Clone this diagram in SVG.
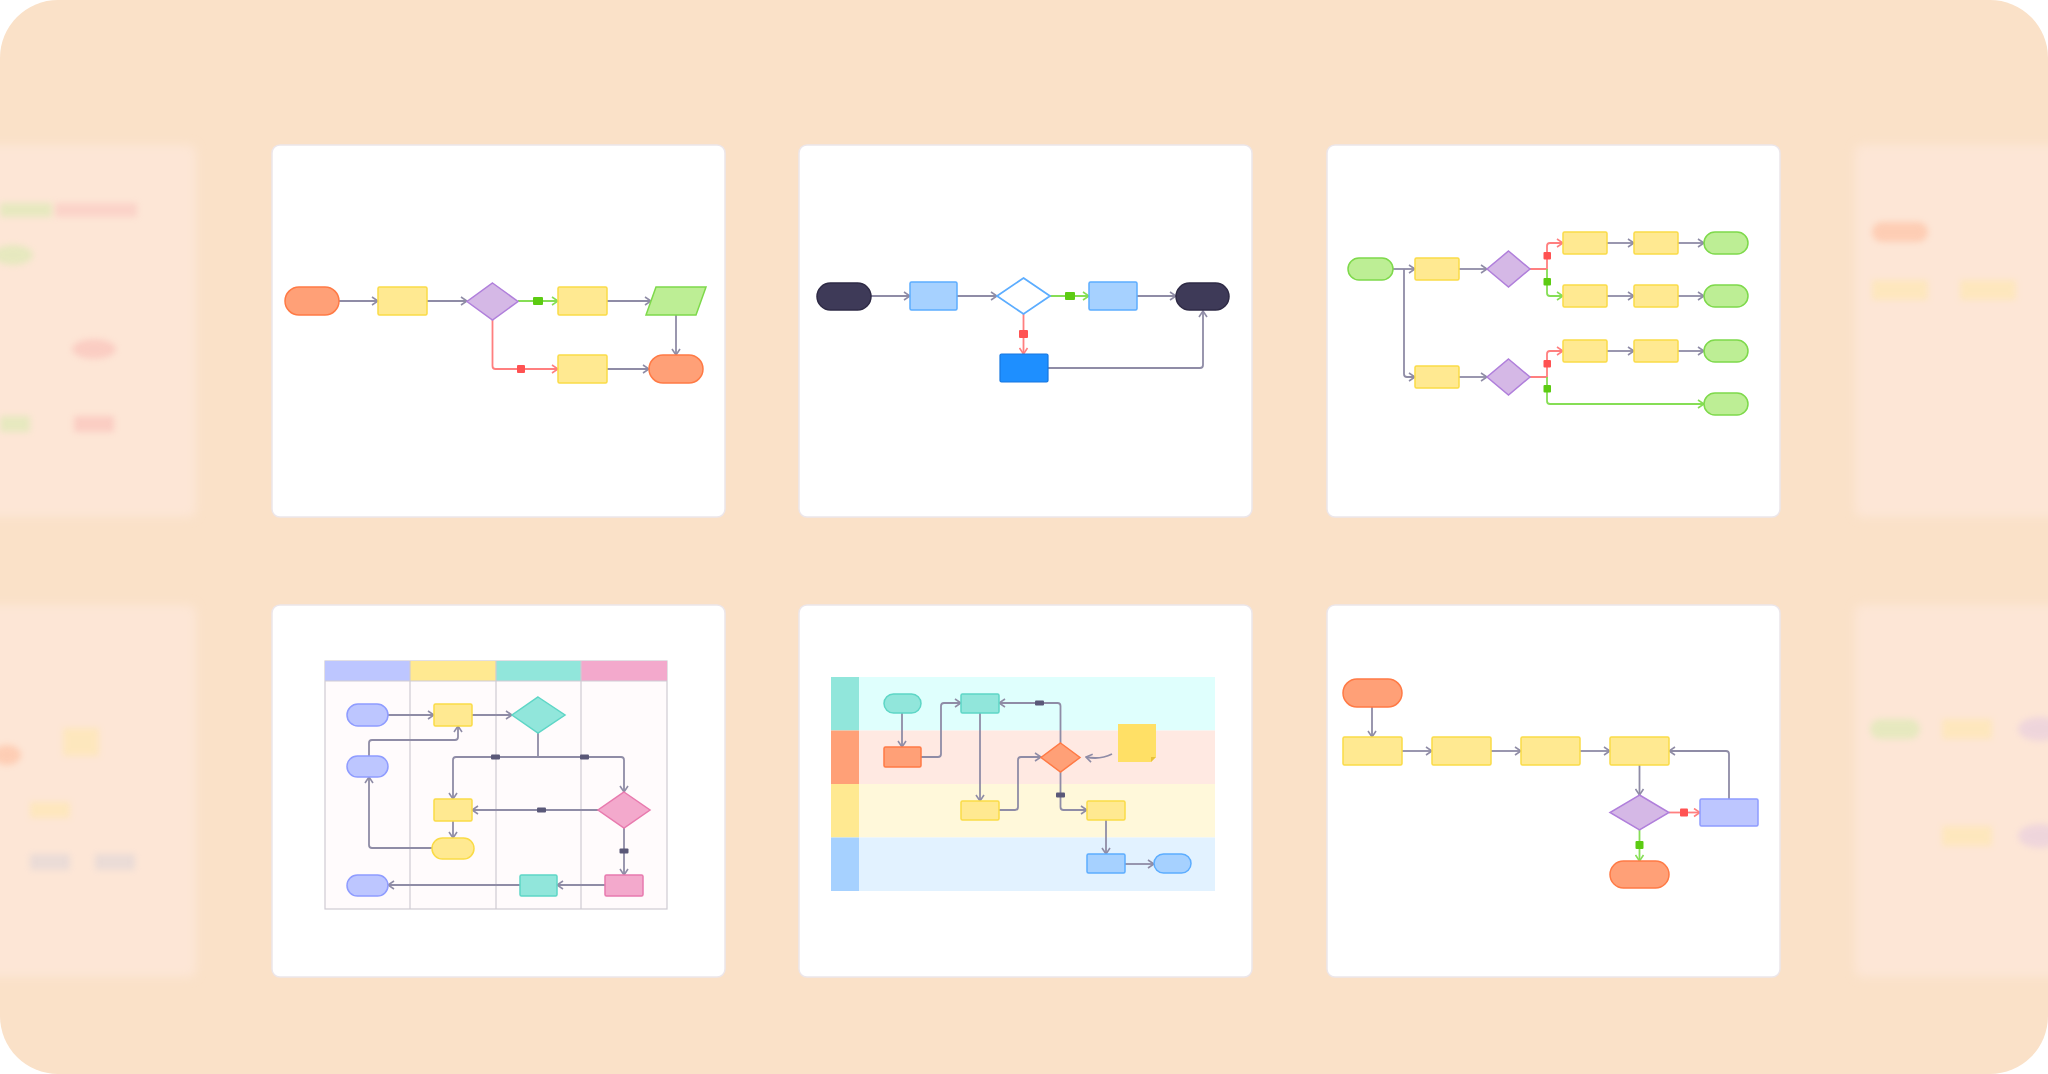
<svg xmlns="http://www.w3.org/2000/svg" width="2048" height="1074" viewBox="0 0 2048 1074">
<style>
.card{fill:#fff;stroke:#ECE6EA;stroke-width:1.5}
.ghost{fill:#FDE6D6}
.c{fill:none;stroke:#8F8CA6;stroke-width:1.8}
.cr{fill:none;stroke:#FF7F7F;stroke-width:1.8}
.cg{fill:none;stroke:#86DE55;stroke-width:1.8}
.y{fill:#FFE991;stroke:#FADB47;stroke-width:1.5}
.o{fill:#FFA077;stroke:#FF7A45;stroke-width:1.5}
.p{fill:#D5B8E6;stroke:#B07FDB;stroke-width:1.5}
.g{fill:#BDEE95;stroke:#7ED94B;stroke-width:1.5}
.b{fill:#A6D1FF;stroke:#5CADFF;stroke-width:1.5}
.v{fill:#BDC6FF;stroke:#8F9CFF;stroke-width:1.5}
.t{fill:#91E6DB;stroke:#5ED6C6;stroke-width:1.5}
.k{fill:#F3A9CC;stroke:#E87AAE;stroke-width:1.5}
.mr{fill:#FF5252}
.mg{fill:#5CCB12}
.md{fill:#5A5878}
.ln{stroke:#CFCBD3;stroke-width:1.2;fill:none}
</style>
<defs>
<marker id="a" viewBox="0 0 8 10" refX="7" refY="5" markerWidth="8" markerHeight="10" markerUnits="userSpaceOnUse" orient="auto"><path d="M1,1 L7,5 L1,9" fill="none" stroke="#8F8CA6" stroke-width="1.6"/></marker>
<marker id="ar" viewBox="0 0 8 10" refX="7" refY="5" markerWidth="8" markerHeight="10" markerUnits="userSpaceOnUse" orient="auto"><path d="M1,1 L7,5 L1,9" fill="none" stroke="#FF7F7F" stroke-width="1.6"/></marker>
<marker id="ag" viewBox="0 0 8 10" refX="7" refY="5" markerWidth="8" markerHeight="10" markerUnits="userSpaceOnUse" orient="auto"><path d="M1,1 L7,5 L1,9" fill="none" stroke="#86DE55" stroke-width="1.6"/></marker>
<filter id="blur" x="-20%" y="-20%" width="140%" height="140%"><feGaussianBlur stdDeviation="5"/></filter>
<filter id="blur2" x="-50%" y="-50%" width="200%" height="200%"><feGaussianBlur stdDeviation="3"/></filter>
</defs>
<rect x="0" y="0" width="2048" height="1074" fill="#fff"/>
<rect x="0" y="0" width="2048" height="1074" rx="58" fill="#FAE1C8"/>

<g id="ghosts" filter="url(#blur)">
<rect class="ghost" x="-20" y="145" width="216" height="372" rx="8"/>
<rect class="ghost" x="-20" y="605" width="216" height="372" rx="8"/>
<rect class="ghost" x="1855" y="145" width="220" height="372" rx="8"/>
<rect class="ghost" x="1855" y="605" width="220" height="372" rx="8"/>
</g>
<g id="ghost-shapes" filter="url(#blur2)" opacity="0.35">
<rect x="0" y="203" width="52" height="14" fill="#BDEE95"/>
<rect x="55" y="203" width="82" height="14" fill="#F7B0B0"/>
<ellipse cx="13" cy="255" rx="20" ry="10" fill="#BDEE95"/>
<ellipse cx="94" cy="349" rx="22" ry="10" fill="#F7A0A0"/>
<rect x="0" y="416" width="30" height="16" fill="#BDEE95"/>
<rect x="74" y="416" width="40" height="16" fill="#F7A0A0"/>
<ellipse cx="7" cy="755" rx="14" ry="10" fill="#FFA077"/>
<rect x="63" y="728" width="36" height="28" fill="#FFE991"/>
<rect x="30" y="802" width="40" height="16" fill="#FFE991"/>
<rect x="30" y="854" width="40" height="16" fill="#C8C8D8"/>
<rect x="95" y="854" width="40" height="16" fill="#C8C8D8"/>
<rect x="1872" y="222" width="56" height="20" rx="10" fill="#FFA077"/>
<rect x="1872" y="280" width="56" height="20" fill="#FFE991"/>
<rect x="1960" y="280" width="56" height="20" fill="#FFE991"/>
<rect x="1870" y="719" width="50" height="20" rx="10" fill="#BDEE95"/>
<rect x="1942" y="719" width="50" height="20" fill="#FFE991"/>
<ellipse cx="2040" cy="729" rx="22" ry="12" fill="#D5B8E6"/>
<rect x="1942" y="826" width="50" height="20" fill="#FFE991"/>
<ellipse cx="2040" cy="836" rx="22" ry="12" fill="#D5B8E6"/>
</g>

<g id="cards">
<rect class="card" x="272" y="145" width="453" height="372" rx="8"/>
<rect class="card" x="799" y="145" width="453" height="372" rx="8"/>
<rect class="card" x="1327" y="145" width="453" height="372" rx="8"/>
<rect class="card" x="272" y="605" width="453" height="372" rx="8"/>
<rect class="card" x="799" y="605" width="453" height="372" rx="8"/>
<rect class="card" x="1327" y="605" width="453" height="372" rx="8"/>
</g>

<g id="p4-table">
<rect x="325" y="661" width="342" height="248" fill="#FFFBFC" stroke="#CFCBD3" stroke-width="1.2"/>
<rect x="325" y="661" width="85" height="20" fill="#BDC6FF"/>
<rect x="410" y="661" width="86" height="20" fill="#FFE991"/>
<rect x="496" y="661" width="85" height="20" fill="#91E6DB"/>
<rect x="581" y="661" width="86" height="20" fill="#F3A9CC"/>
<path class="ln" d="M410,661V909M496,661V909M581,661V909M325,681H667"/>
</g>
<g id="p5-lanes">
<rect x="859" y="677" width="356" height="53.5" fill="#DFFFFD"/>
<rect x="859" y="730.5" width="356" height="53.5" fill="#FFE9E2"/>
<rect x="859" y="784" width="356" height="53.5" fill="#FFF8DA"/>
<rect x="859" y="837.5" width="356" height="53.5" fill="#E2F2FF"/>
<rect x="831" y="677" width="28" height="53.5" fill="#91E6DB"/>
<rect x="831" y="730.5" width="28" height="53.5" fill="#FFA077"/>
<rect x="831" y="784" width="28" height="53.5" fill="#FFE991"/>
<rect x="831" y="837.5" width="28" height="53.5" fill="#A6D1FF"/>
</g>

<g id="connectors">
<path class="c" d="M339,301H378" marker-end="url(#a)"/>
<path class="c" d="M427,301H467" marker-end="url(#a)"/>
<path class="cg" d="M518,301H558" marker-end="url(#ag)"/>
<path class="c" d="M607,301H651" marker-end="url(#a)"/>
<path class="c" d="M676,315V355" marker-end="url(#a)"/>
<path class="cr" d="M492.5,320V366Q492.5,369 495.5,369H558" marker-end="url(#ar)"/>
<path class="c" d="M607,369H649" marker-end="url(#a)"/>
<path class="c" d="M871,296H910" marker-end="url(#a)"/>
<path class="c" d="M957,296H997" marker-end="url(#a)"/>
<path class="cg" d="M1050,296H1089" marker-end="url(#ag)"/>
<path class="c" d="M1137,296H1176" marker-end="url(#a)"/>
<path class="cr" d="M1023.5,314V354" marker-end="url(#ar)"/>
<path class="c" d="M1048,368H1200Q1203,368 1203,365V311" marker-end="url(#a)"/>
<path class="c" d="M1393,269H1415" marker-end="url(#a)"/>
<path class="c" d="M1404,269V374Q1404,377 1407,377H1415" marker-end="url(#a)"/>
<path class="c" d="M1459,269H1487" marker-end="url(#a)"/>
<path class="c" d="M1459,377H1487" marker-end="url(#a)"/>
<path class="cr" d="M1530,269H1547V246Q1547,243 1550,243H1563" marker-end="url(#ar)"/>
<path class="cg" d="M1547,269V293Q1547,296 1550,296H1563" marker-end="url(#ag)"/>
<path class="cr" d="M1530,377H1547V354Q1547,351 1550,351H1563" marker-end="url(#ar)"/>
<path class="cg" d="M1547,377V401Q1547,404 1550,404H1704" marker-end="url(#ag)"/>
<path class="c" d="M1607,243H1634" marker-end="url(#a)"/>
<path class="c" d="M1607,296H1634" marker-end="url(#a)"/>
<path class="c" d="M1607,351H1634" marker-end="url(#a)"/>
<path class="c" d="M1678,243H1704" marker-end="url(#a)"/>
<path class="c" d="M1678,296H1704" marker-end="url(#a)"/>
<path class="c" d="M1678,351H1704" marker-end="url(#a)"/>
<path class="c" d="M388,715H434" marker-end="url(#a)"/>
<path class="c" d="M472,715H512" marker-end="url(#a)"/>
<path class="c" d="M538,733V757H456Q453,757 453,760V799" marker-end="url(#a)"/>
<path class="c" d="M538,757H621Q624,757 624,760V792" marker-end="url(#a)"/>
<path class="c" d="M598,810H472" marker-end="url(#a)"/>
<path class="c" d="M453,821V838" marker-end="url(#a)"/>
<path class="c" d="M432,848H372Q369,848 369,845V777" marker-end="url(#a)"/>
<path class="c" d="M369,756V743Q369,740 372,740H455Q458,740 458,737V726" marker-end="url(#a)"/>
<path class="c" d="M624,828V875" marker-end="url(#a)"/>
<path class="c" d="M605,885H557" marker-end="url(#a)"/>
<path class="c" d="M520,885H388" marker-end="url(#a)"/>
<path class="c" d="M902,713V747" marker-end="url(#a)"/>
<path class="c" d="M921,757H938Q941,757 941,754V706Q941,703 944,703H961" marker-end="url(#a)"/>
<path class="c" d="M980,713V801" marker-end="url(#a)"/>
<path class="c" d="M999,810H1015Q1018,810 1018,807V760Q1018,757 1021,757H1041" marker-end="url(#a)"/>
<path class="c" d="M1060.5,743V706Q1060.5,703 1057.5,703H999" marker-end="url(#a)"/>
<path class="c" d="M1060.5,772V807Q1060.5,810 1063.5,810H1087" marker-end="url(#a)"/>
<path class="c" d="M1106,820V854" marker-end="url(#a)"/>
<path class="c" d="M1125,864H1154" marker-end="url(#a)"/>
<path class="c" d="M1112,754Q1100,760 1086,757" marker-end="url(#a)"/>
<path class="c" d="M1372,707V737" marker-end="url(#a)"/>
<path class="c" d="M1402,751H1432" marker-end="url(#a)"/>
<path class="c" d="M1491,751H1521" marker-end="url(#a)"/>
<path class="c" d="M1580,751H1610" marker-end="url(#a)"/>
<path class="c" d="M1639.5,765V795" marker-end="url(#a)"/>
<path class="cr" d="M1669,812.5H1700" marker-end="url(#ar)"/>
<path class="cg" d="M1639.5,830V861" marker-end="url(#ag)"/>
<path class="c" d="M1729,799V754Q1729,751 1726,751H1669" marker-end="url(#a)"/>
<rect class="mg" x="533" y="297" width="10" height="8" rx="1"/>
<rect class="mr" x="517" y="365" width="8" height="8" rx="1"/>
<rect class="mg" x="1065" y="292" width="10" height="8" rx="1"/>
<rect class="mr" x="1019" y="330" width="9" height="8" rx="1"/>
<rect class="mr" x="1543.5" y="252" width="7.5" height="7.5" rx="1"/>
<rect class="mg" x="1543.5" y="278" width="7.5" height="7.5" rx="1"/>
<rect class="mr" x="1543.5" y="360" width="7.5" height="7.5" rx="1"/>
<rect class="mg" x="1543.5" y="385" width="7.5" height="7.5" rx="1"/>
<rect class="md" x="491" y="754.5" width="9" height="5" rx="1"/>
<rect class="md" x="580" y="754.5" width="9" height="5" rx="1"/>
<rect class="md" x="537" y="807.5" width="9" height="5" rx="1"/>
<rect class="md" x="619.5" y="848.5" width="9" height="5" rx="1"/>
<rect class="md" x="1035" y="700.5" width="9" height="5" rx="1"/>
<rect class="md" x="1056" y="792.5" width="9" height="5" rx="1"/>
<rect class="mr" x="1680" y="808.5" width="8" height="8" rx="1"/>
<rect class="mg" x="1635.5" y="841" width="8" height="8" rx="1"/>
</g>

<g id="p1-start"><rect class="o" x="285" y="287" width="54" height="28" rx="14"/></g>
<g id="p1-step1"><rect class="y" x="378" y="287" width="49" height="28" rx="1.5"/></g>
<g id="p1-dec"><polygon class="p" points="492.5,283 518,301.5 492.5,320 467,301.5"/></g>
<g id="p1-step2"><rect class="y" x="558" y="287" width="49" height="28" rx="1.5"/></g>
<g id="p1-io"><polygon class="g" points="656,287 706,287 696,315 646,315"/></g>
<g id="p1-step3"><rect class="y" x="558" y="355" width="49" height="28" rx="1.5"/></g>
<g id="p1-end"><rect class="o" x="649" y="355" width="54" height="28" rx="14"/></g>

<g id="p2-start"><rect x="817" y="283" width="54" height="27" rx="13.5" fill="#3E3A58" stroke="#2E2A45" stroke-width="1.5"/></g>
<g id="p2-step1"><rect class="b" x="910" y="282" width="47" height="28" rx="1.5"/></g>
<g id="p2-dec"><polygon points="1023.5,278 1050,296 1023.5,314 997,296" fill="#fff" stroke="#5CADFF" stroke-width="1.8"/></g>
<g id="p2-step2"><rect class="b" x="1089" y="282" width="48" height="28" rx="1.5"/></g>
<g id="p2-end"><rect x="1176" y="283" width="53" height="27" rx="13.5" fill="#3E3A58" stroke="#2E2A45" stroke-width="1.5"/></g>
<g id="p2-alt"><rect x="1000" y="354" width="48" height="28" rx="1.5" fill="#1E8FFF" stroke="#1677E0" stroke-width="1.2"/></g>

<g id="p3-start"><rect class="g" x="1348" y="258" width="45" height="22" rx="11"/></g>
<g id="p3-a"><rect class="y" x="1415" y="258" width="44" height="22" rx="1.5"/></g>
<g id="p3-da"><polygon class="p" points="1508.5,251 1530,269 1508.5,287 1487,269"/></g>
<g id="p3-b"><rect class="y" x="1415" y="366" width="44" height="22" rx="1.5"/></g>
<g id="p3-db"><polygon class="p" points="1508.5,359 1530,377 1508.5,395 1487,377"/></g>
<g id="p3-r1a"><rect class="y" x="1563" y="232" width="44" height="22" rx="1.5"/></g>
<g id="p3-r1b"><rect class="y" x="1634" y="232" width="44" height="22" rx="1.5"/></g>
<g id="p3-e1"><rect class="g" x="1704" y="232" width="44" height="22" rx="11"/></g>
<g id="p3-r2a"><rect class="y" x="1563" y="285" width="44" height="22" rx="1.5"/></g>
<g id="p3-r2b"><rect class="y" x="1634" y="285" width="44" height="22" rx="1.5"/></g>
<g id="p3-e2"><rect class="g" x="1704" y="285" width="44" height="22" rx="11"/></g>
<g id="p3-r3a"><rect class="y" x="1563" y="340" width="44" height="22" rx="1.5"/></g>
<g id="p3-r3b"><rect class="y" x="1634" y="340" width="44" height="22" rx="1.5"/></g>
<g id="p3-e3"><rect class="g" x="1704" y="340" width="44" height="22" rx="11"/></g>
<g id="p3-e4"><rect class="g" x="1704" y="393" width="44" height="22" rx="11"/></g>

<g id="p4-s1"><rect class="v" x="347" y="704" width="41" height="22" rx="11"/></g>
<g id="p4-s2"><rect class="v" x="347" y="756" width="41" height="21" rx="10.5"/></g>
<g id="p4-s3"><rect class="v" x="347" y="875" width="41" height="21" rx="10.5"/></g>
<g id="p4-r1"><rect class="y" x="434" y="704" width="38" height="22" rx="1.5"/></g>
<g id="p4-d1"><polygon class="t" points="538,697 565,715 538,733 512,715"/></g>
<g id="p4-d2"><polygon class="k" points="624,792 650,810 624,828 598,810"/></g>
<g id="p4-r2"><rect class="y" x="434" y="799" width="38" height="22" rx="1.5"/></g>
<g id="p4-pill"><rect class="y" x="432" y="838" width="42" height="21" rx="10.5"/></g>
<g id="p4-teal"><rect class="t" x="520" y="875" width="37" height="21" rx="1.5"/></g>
<g id="p4-pink"><rect class="k" x="605" y="875" width="38" height="21" rx="1.5"/></g>

<g id="p5-start"><rect class="t" x="884" y="694" width="37" height="19" rx="9.5"/></g>
<g id="p5-o"><rect class="o" x="884" y="747" width="37" height="20" rx="1.5"/></g>
<g id="p5-t"><rect class="t" x="961" y="694" width="38" height="19" rx="1.5"/></g>
<g id="p5-d"><polygon class="o" points="1060.5,743 1080,757.5 1060.5,772 1041,757.5"/></g>
<g id="p5-note"><path d="M1118,724H1156V757L1151,762H1118Z" fill="#FFE066"/><path d="M1151,762V757H1156Z" fill="#E8C23A"/></g>
<g id="p5-y1"><rect class="y" x="961" y="801" width="38" height="19" rx="1.5"/></g>
<g id="p5-y2"><rect class="y" x="1087" y="801" width="38" height="19" rx="1.5"/></g>
<g id="p5-b"><rect class="b" x="1087" y="854" width="38" height="19" rx="1.5"/></g>
<g id="p5-end"><rect class="b" x="1154" y="854" width="37" height="19" rx="9.5"/></g>

<g id="p6-start"><rect class="o" x="1343" y="679" width="59" height="28" rx="14"/></g>
<g id="p6-r1"><rect class="y" x="1343" y="737" width="59" height="28" rx="1.5"/></g>
<g id="p6-r2"><rect class="y" x="1432" y="737" width="59" height="28" rx="1.5"/></g>
<g id="p6-r3"><rect class="y" x="1521" y="737" width="59" height="28" rx="1.5"/></g>
<g id="p6-r4"><rect class="y" x="1610" y="737" width="59" height="28" rx="1.5"/></g>
<g id="p6-d"><polygon class="p" points="1639.5,795 1669,812.5 1639.5,830 1610,812.5"/></g>
<g id="p6-fix"><rect class="v" x="1700" y="799" width="58" height="27" rx="1.5"/></g>
<g id="p6-end"><rect class="o" x="1610" y="861" width="59" height="27" rx="13.5"/></g>
</svg>
